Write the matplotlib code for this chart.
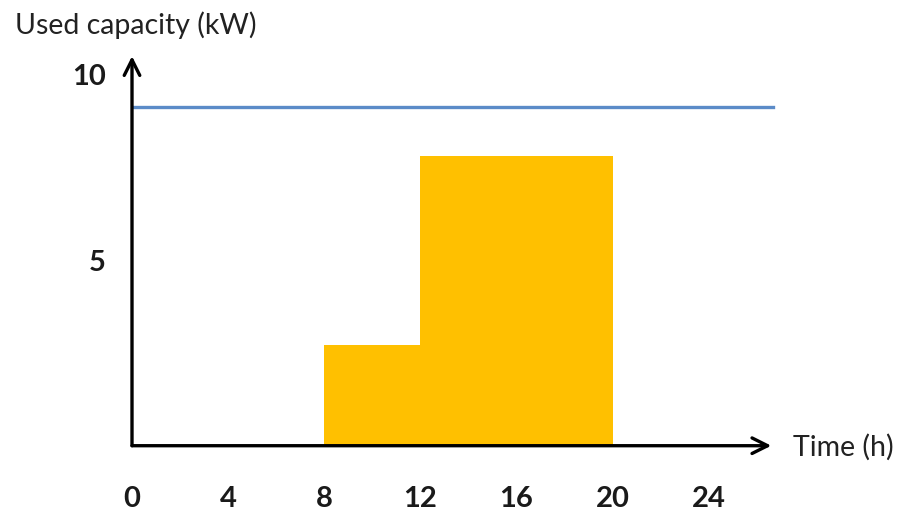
import matplotlib.pyplot as plt

# 時間帯ごとの使用容量 (kW)
bar_start = [8, 12]      # h
bar_width = [4, 8]       # h
bar_height = [2.7, 7.8]  # kW

# 契約容量の線
limit_x = [0, 26.65]
limit_y = [9.1, 9.1]

x_ticks = [0, 4, 8, 12, 16, 20, 24]
y_ticks = [5, 10]

plt.rcParams['font.family'] = ['Lato', 'DejaVu Sans']

fig = plt.figure(figsize=(9.11, 5.10), dpi=100)
ax = fig.add_axes([0.1449, 0.1241, 0.7387, 0.8018])
ax.set_xlim(0, 28)
ax.set_ylim(0, 11)

# 使用容量のブロック
ax.bar(bar_start, bar_height, width=bar_width, align='edge',
       color='#ffc000', linewidth=0, zorder=2)
# 上限ライン
ax.plot(limit_x, limit_y, color='#5b8bc8', linewidth=2.4, zorder=2)

# 矢印付きの軸
ax.annotate('', xy=(26.6, 0), xytext=(0, 0),
            arrowprops=dict(arrowstyle='->', color='black', lw=2.4,
                            mutation_scale=28, shrinkA=0, shrinkB=0),
            zorder=3)
ax.annotate('', xy=(0, 10.48), xytext=(0, 0),
            arrowprops=dict(arrowstyle='->', color='black', lw=2.4,
                            mutation_scale=28, shrinkA=0, shrinkB=0),
            zorder=3)

for s in ax.spines.values():
    s.set_visible(False)

ax.set_xticks(x_ticks)
ax.set_xticklabels([str(t) for t in x_ticks], fontsize=21, fontweight='bold',
                   color='#1a1a1a')
ax.set_yticks(y_ticks)
ax.set_yticklabels([str(t) for t in y_ticks], fontsize=21, fontweight='bold',
                   color='#1a1a1a')
ax.tick_params(axis='x', length=0, pad=28)
ax.tick_params(axis='y', length=0, pad=19)
ax.get_yticklabels()[0].set_y(5.1)

fig.text(15 / 911, 1 - 25 / 510, 'Used capacity (kW)', fontsize=20.5,
         ha='left', va='center', color='#222222')
fig.text(793 / 911, 1 - 447 / 510, 'Time (h)', fontsize=20.5,
         ha='left', va='center', color='#222222')

plt.savefig('out.png', dpi=100)
plt.close(fig)
